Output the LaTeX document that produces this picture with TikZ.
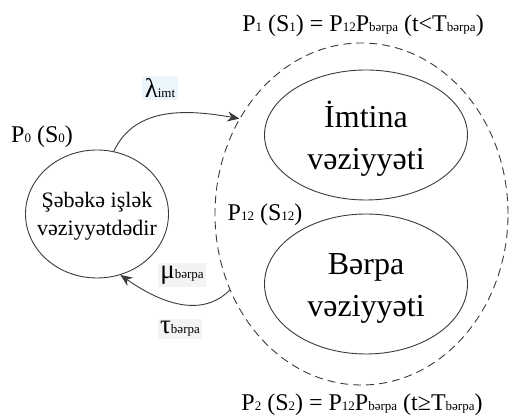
\documentclass[tikz,border=0pt]{standalone}
\usepackage{fontspec}
\setmainfont{Liberation Serif}
\usepackage{xcolor}
\usetikzlibrary{arrows.meta,positioning,shapes.geometric}

\definecolor{edgegray}{HTML}{3A3A3A}
\definecolor{lambdabg}{HTML}{EAF5FC}
\definecolor{ratebg}{HTML}{F3F3F3}
\newcommand\lo[2][13]{{\fontsize{#1}{#1}\selectfont #2}}

\begin{document}
\begin{tikzpicture}[x=1pt,y=1pt,
  every node/.style={font=\fontsize{24}{28}\selectfont},
  state/.style={draw=edgegray,line width=0.9pt,ellipse,inner sep=0pt},
  trans/.style={draw=edgegray,line width=0.9pt,-{Stealth[length=12pt,width=10pt]}},
  rate/.style={inner sep=2.5pt,font=\fontsize{27}{27}\selectfont}]
  \useasboundingbox (0,0) rectangle (509,417);
  % states
  \node[state,dashed,dash pattern=on 8pt off 5pt,minimum width=293,minimum height=342] (grp) at (361.5,203) {};
  \node[state,minimum width=143,minimum height=128] (s0) at (97,203) {};
  \node[state,minimum width=203,minimum height=130] (imt) at (366,282) {};
  \node[state,minimum width=203,minimum height=140] (brp) at (366,133) {};
  \node[align=center,font=\fontsize{22}{28}\selectfont] (s0txt) at (97,201) {Şəbəkə işlək\\vəziyyətdədir};
  \node[align=center,font=\fontsize{32}{42}\selectfont] (imttxt) at (366,278) {İmtina\\vəziyyəti};
  \node[align=center,font=\fontsize{32}{42}\selectfont] (brptxt) at (366,129) {Bərpa\\vəziyyəti};
  % probabilities
  \node (p0) at (42,280) {P\lo{0} (S\lo{0})};
  \node (p12) at (265,202) {P\lo{12} (S\lo{12})};
  \node (p1) at (363,391) {P\lo{1} (S\lo{1}) = P\lo{12}P\lo{bərpa} (t<T\lo{bərpa})};
  \node (p2) at (362,12) {P\lo{2} (S\lo{2}) = P\lo{12}P\lo{bərpa} (t≥T\lo{bərpa})};
  % transitions
  \draw[trans] (s0.75) to[out=65,in=170] (grp.142);
  \draw[trans] (grp.210) to[out=225,in=-35] (s0.291);
  \node[rate,fill=lambdabg] (lam) at (160,329) {λ\lo[13]{imt}};
  \node[rate,fill=ratebg] (mu) at (182,142) {μ\lo{bərpa}};
  \node[rate,fill=ratebg] (tau) at (180,88) {τ\lo{bərpa}};
\end{tikzpicture}
\end{document}
